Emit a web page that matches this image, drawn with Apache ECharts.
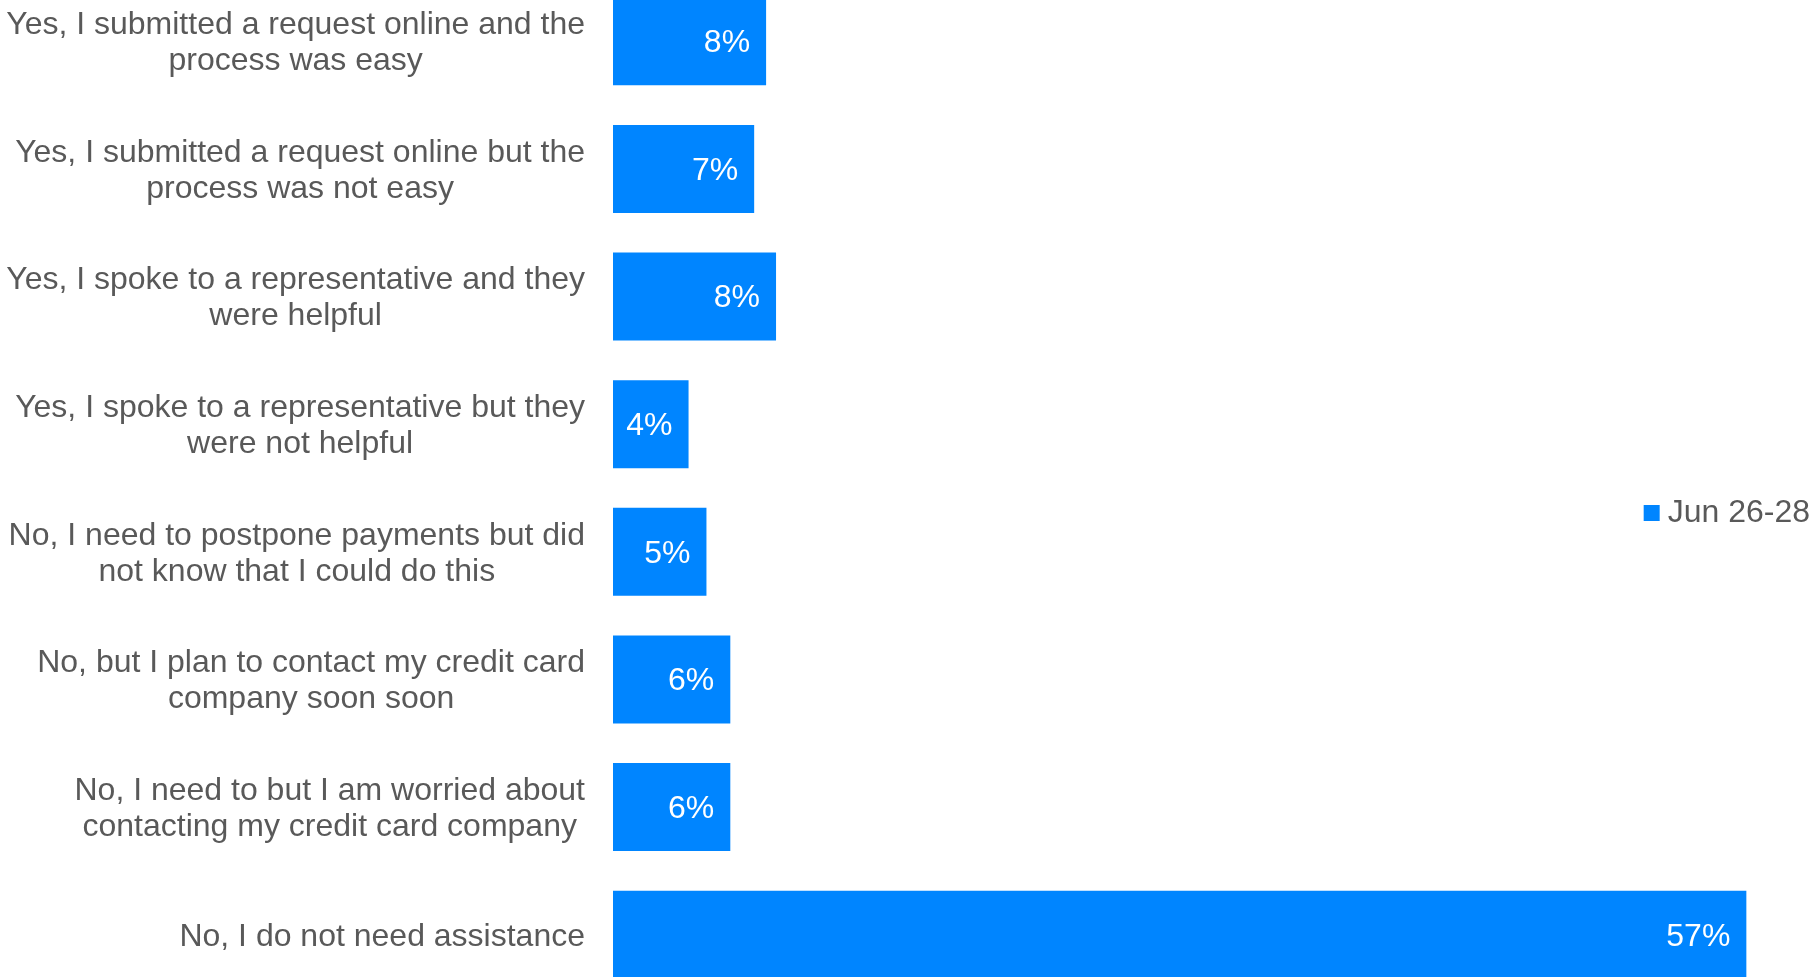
<!DOCTYPE html>
<html>
<head>
<meta charset="utf-8">
<script src="https://cdn.jsdelivr.net/npm/echarts@6/dist/echarts.min.js"></script>
<style>
html,body{margin:0;padding:0;background:#fff;}
#chart{width:1812px;height:977px;}
</style>
</head>
<body>
<div id="chart"></div>
<script>
const categories = [
  "Yes, I submitted a request online and the\nprocess was easy",
  "Yes, I submitted a request online but the\nprocess was not easy",
  "Yes, I spoke to a representative and they\nwere helpful",
  "Yes, I spoke to a representative but they\nwere not helpful",
  "No, I need to postpone payments but did\nnot know that I could do this",
  "No, but I plan to contact my credit card\ncompany soon soon",
  "No, I need to but I am worried about\ncontacting my credit card company",
  "No, I do not need assistance"
];
const seriesName = "Jun 26-28";
const values = [7.7, 7.1, 8.2, 3.8, 4.7, 5.9, 5.9, 57.0];

const FONT = "'Liberation Sans', Arial, sans-serif";
const GRAY = "#595959";
const BLUE = "#0085FF";

const chart = echarts.init(document.getElementById('chart'), null, {renderer: 'canvas'});
chart.setOption({
  animation: false,
  backgroundColor: '#ffffff',
  textStyle: {fontFamily: FONT},
  legend: {
    data: [seriesName],
    orient: 'vertical',
    right: 2,
    top: 497,
    padding: 0,
    icon: 'rect',
    itemWidth: 16,
    itemHeight: 16,
    itemGap: 8,
    textStyle: {fontFamily: FONT, fontSize: 32, color: GRAY, padding: [2, 0, 0, 3]}
  },
  grid: {left: 613, right: 6, top: -22.5, bottom: -21.5, outerBoundsMode: 'none', containLabel: false},
  xAxis: {
    type: 'value',
    min: 0,
    max: 60,
    show: false
  },
  yAxis: {
    type: 'category',
    inverse: true,
    data: categories,
    axisLine: {show: false},
    axisTick: {show: false},
    splitLine: {show: false},
    axisLabel: {
      margin: 28,
      fontFamily: FONT,
      fontSize: 32,
      color: GRAY,
      lineHeight: 36,
      padding: [4, 0, 0, 0],
      formatter: function (v) {
        return v.split('\n').map(function (s) { return '{c|' + s + '}'; }).join('\n');
      },
      rich: {
        c: {align: 'center', fontFamily: FONT, fontSize: 32, color: GRAY, lineHeight: 36}
      }
    }
  },
  series: [{
    name: seriesName,
    type: 'bar',
    data: values,
    barWidth: 88,
    itemStyle: {color: BLUE},
    label: {
      show: true,
      position: 'insideRight',
      distance: 16,
      offset: [0, 2],
      color: '#ffffff',
      fontFamily: FONT,
      fontSize: 32,
      formatter: function (p) { return Math.round(p.value) + '%'; }
    }
  }]
});
</script>
</body>
</html>
